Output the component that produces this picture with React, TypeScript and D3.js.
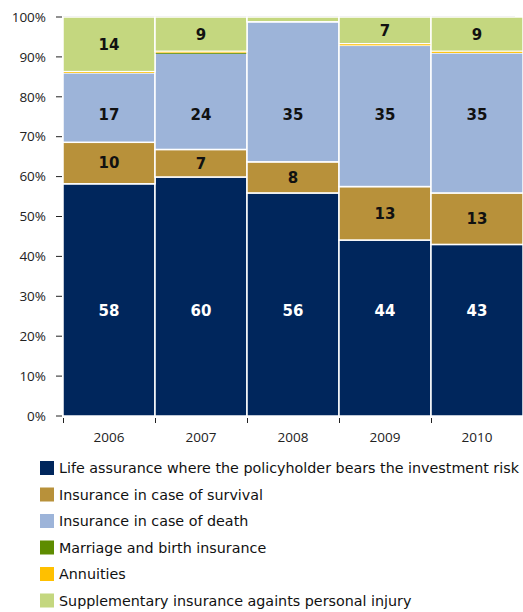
import React from "react";
import * as d3 from "d3";

const years = ["2006", "2007", "2008", "2009", "2010"];
const seriesNames = [
  "Life assurance where the policyholder bears the investment risk",
  "Insurance in case of survival",
  "Insurance in case of death",
  "Marriage and birth insurance",
  "Annuities",
  "Supplementary insurance againts personal injury",
];
const lifeInvest = [58.2, 59.9, 55.9, 44.1, 43.0];
const survival = [10.4, 6.9, 7.8, 13.4, 12.9];
const death = [17.4, 24.2, 35.1, 35.4, 35.1];
const marriage = [0.0, 0.1, 0.0, 0.0, 0.0];
const annuities = [0.3, 0.3, 0.0, 0.4, 0.4];
const supplementary = [13.7, 8.6, 1.2, 6.7, 8.6];
const yTicks = [0, 10, 20, 30, 40, 50, 60, 70, 80, 90, 100];

const colors = ["#00265C", "#B8913A", "#9DB4D9", "#5E8C00", "#FFC000", "#C4D77F"];
const labelColors = ["#ffffff", "#111111", "#111111", "#111111", "#111111", "#111111"];
const labelAnchors: (number | null)[] = [26.5, null, 75.6, null, null, null];

const seriesData = [lifeInvest, survival, death, marriage, annuities, supplementary];

export default function App() {
  const W = 523;
  const H = 612;
  const left = 63;
  const right = 523;
  const top = 17;
  const bottom = 416;

  const x = d3.scaleBand<string>().domain(years).range([left, right]).padding(0);
  const y = d3.scaleLinear().domain([0, 100]).range([bottom, top]);

  const table = years.map((yr, i) => {
    const row: any = { year: yr };
    seriesData.forEach((s, k) => (row["s" + k] = s[i]));
    return row;
  });
  const keys = seriesData.map((_, k) => "s" + k);
  const stacked = d3.stack().keys(keys)(table);

  const segs: { k: number; i: number; y0: number; y1: number }[] = [];
  stacked.forEach((layer, k) => layer.forEach((d, i) => segs.push({ k, i, y0: d[0], y1: d[1] })));
  const big = segs.filter((s) => s.y1 - s.y0 >= 1);
  const small = segs.filter((s) => s.y1 - s.y0 < 1 && s.y1 - s.y0 > 0);

  const font = "'DejaVu Sans', Verdana, sans-serif";
  const axisFont = "'Open Sans', 'Noto Sans', sans-serif";

  return (
    <svg width={W} height={H} style={{ position: "absolute", left: 0, top: 0 }}>
      <rect x={0} y={0} width={W} height={H} fill="#ffffff" />
      <line x1={left} x2={515} y1={y(100) - 0.5} y2={y(100) - 0.5} stroke="#c8c8c8" strokeWidth={1} />
      {big.map((s, n) => (
        <rect
          key={`b${n}`}
          x={x(years[s.i])!}
          y={y(s.y1)}
          width={x.bandwidth()}
          height={y(s.y0) - y(s.y1)}
          fill={colors[s.k]}
          stroke="#ffffff"
          strokeWidth={1.5}
        />
      ))}
      {small.map((s, n) => (
        <rect
          key={`s${n}`}
          x={x(years[s.i])! + 0.75}
          y={y(s.y1) + 0.5}
          width={x.bandwidth() - 1.5}
          height={Math.max(0.8, y(s.y0) - y(s.y1) - 0.5)}
          fill={colors[s.k]}
        />
      ))}
      {big.map((s, n) => {
        const v = s.y1 - s.y0;
        if (v < 5) return null;
        const a = labelAnchors[s.k];
        const ly = a === null ? (y(s.y0) + y(s.y1)) / 2 : y(a);
        return (
          <text
            key={`l${n}`}
            x={x(years[s.i])! + x.bandwidth() / 2}
            y={ly}
            dy="0.36em"
            textAnchor="middle"
            fontFamily={font}
            fontWeight="bold"
            fontSize={15}
            fill={labelColors[s.k]}
          >
            {Math.round(v)}
          </text>
        );
      })}
      {yTicks.map((t) => (
        <g key={t}>
          <line x1={56} x2={62} y1={y(t)} y2={y(t)} stroke="#222" strokeWidth={1} />
          <text x={46} y={y(t)} dy="0.35em" textAnchor="end" fontFamily={axisFont} fontSize={13.5} fill="#222">
            {t}%
          </text>
        </g>
      ))}
      {years.map((yr) => (
        <g key={yr}>
          <line x1={x(yr)! + 0.5} x2={x(yr)! + 0.5} y1={bottom + 2} y2={bottom + 7} stroke="#222" strokeWidth={1} />
          <text x={x(yr)! + x.bandwidth() / 2} y={437} dy="0.35em" textAnchor="middle" fontFamily={axisFont} fontSize={13.5} fill="#222">
            {yr}
          </text>
        </g>
      ))}
      {seriesNames.map((name, k) => (
        <g key={name} transform={`translate(40, ${468 + k * 26.5})`}>
          <rect x={0} y={-7} width={14} height={14} fill={colors[k]} />
          <text x={19} y={0} dy="0.36em" fontFamily={font} fontSize={14.3} fill="#111">
            {name}
          </text>
        </g>
      ))}
    </svg>
  );
}
